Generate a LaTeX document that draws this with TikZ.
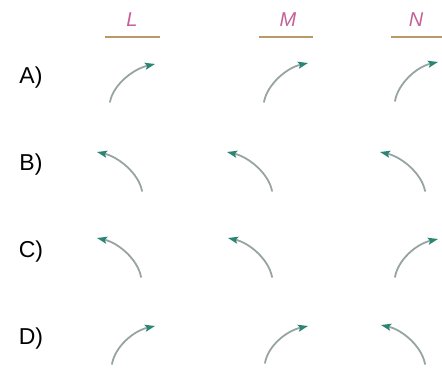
\documentclass[tikz,border=0pt]{standalone}
\usepackage{fontspec}
\setmainfont{Liberation Sans}
\usetikzlibrary{arrows.meta}
\definecolor{tealc}{HTML}{2A8575}
\definecolor{shaftc}{HTML}{98A4A2}
\definecolor{pinkc}{HTML}{C4609A}
\definecolor{goldc}{HTML}{B89A68}
\tikzset{
  arr/.style={draw=shaftc, line width=1.8pt, line cap=round,
    -{Stealth[length=10pt,width=7pt,inset=2pt,color=tealc]}},
  collab/.style={font=\fontsize{20}{20}\selectfont\itshape, text=pinkc, inner sep=0pt},
  rowlab/.style={font=\fontsize{23}{23}\selectfont, text=black, inner sep=0pt},
  uline/.style={draw=goldc, line width=1.3pt}
}
\begin{document}
\begin{tikzpicture}[x=1pt,y=-1pt]
\useasboundingbox (0,0) rectangle (442,372);
% column labels
\node[collab] (L) at (132,20) {L};
\node[collab] (M) at (288,20) {M};
\node[collab] (N) at (416,20) {N};
\coordinate (uL1) at (105,37); \coordinate (uL2) at (160,37);
\coordinate (uM1) at (259,37); \coordinate (uM2) at (313,37);
\coordinate (uN1) at (391,37); \coordinate (uN2) at (442,37);
\draw[uline] (uL1) -- (uL2);
\draw[uline] (uM1) -- (uM2);
\draw[uline] (uN1) -- (uN2);
% row labels
\node[rowlab] (A) at (31,78) {A)};
\node[rowlab] (B) at (31,165) {B)};
\node[rowlab] (C) at (31,252) {C)};
\node[rowlab] (D) at (31,339) {D)};
% up-right arrows: tail / head
\foreach \n/\tx/\ty/\hx/\hy in {aL/110/102/155/64, aM/264/102/308/63, aN/395/101/438/62,
                                 cN/395/277/438/239, dL/112/364/155/326, dM/265/363/308/326}{
  \coordinate (\n t) at (\tx,\ty);
  \coordinate (\n h) at (\hx,\hy);
  \draw[arr] (\n t) .. controls +(3,-17) and +(-22,5) .. (\n h);
}
% up-left arrows: tail / head
\foreach \n/\tx/\ty/\hx/\hy in {bL/142/191/97/152, bM/272/191/227/152, bN/425/191/380/152,
                                 cL/141/277/97/238, cM/272/277/228/238, dN/425/364/381/325}{
  \coordinate (\n t) at (\tx,\ty);
  \coordinate (\n h) at (\hx,\hy);
  \draw[arr] (\n t) .. controls +(-3,-17) and +(22,5) .. (\n h);
}
\end{tikzpicture}
\end{document}
